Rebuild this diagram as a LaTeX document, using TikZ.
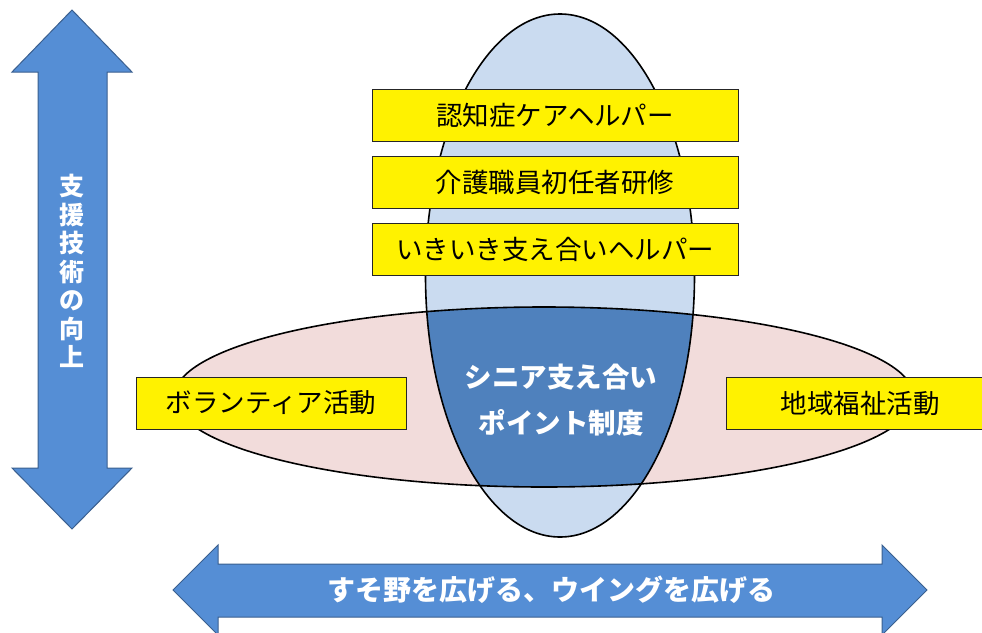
\documentclass[tikz,border=0pt]{standalone}
\usepackage{fontspec}
\setmainfont{Noto Sans CJK JP}
\definecolor{arrowblue}{HTML}{558ED5}
\definecolor{arrowedge}{HTML}{3A5F8F}
\definecolor{lightblue}{HTML}{CADBF0}
\definecolor{pinkfill}{HTML}{F2DCDB}
\definecolor{darkblue}{HTML}{4F81BD}
\tikzset{
  bigarrow/.style={fill=arrowblue, draw=arrowedge, line width=1pt, line join=miter},
  ybox/.style={draw=black!85, fill=yellow, line width=0.8pt, minimum height=52pt, inner sep=0pt,
    font=\fontsize{26.5}{30}\selectfont},
  whitetext/.style={text=white, font=\bfseries\fontsize{27.5}{46}\selectfont, align=center},
  outline/.style={draw=black, line width=1.6pt}
}
\begin{document}
\begin{tikzpicture}[x=1pt, y=-1pt]
\useasboundingbox (0,0) rectangle (982,632);
\clip (0,0) rectangle (982,632);
% vertical arrow
\draw[bigarrow] (72,10) -- (132,72) -- (107,72) -- (107,468) -- (132,468) -- (72,529)
  -- (12,468) -- (38,468) -- (38,72) -- (12,72) -- cycle;
\node[whitetext, font=\bfseries\fontsize{25}{28.5}\selectfont] (vtext) at (72,271)
  {支\\援\\技\\術\\の\\向\\上};
% horizontal arrow
\draw[bigarrow] (173,590) -- (218,545) -- (218,564) -- (882,564) -- (882,545) -- (927,590)
  -- (882,635) -- (882,617) -- (218,617) -- (218,635) -- cycle;
\node[whitetext, font=\bfseries\fontsize{28}{32}\selectfont] (htext) at (551,590)
  {すそ野を広げる、ウイングを広げる};
% ellipses
\fill[lightblue] (560,275.5) ellipse [x radius=134.5, y radius=261.5];
\fill[pinkfill] (544,397) ellipse [x radius=370, y radius=90];
\begin{scope}
  \clip (560,275.5) ellipse [x radius=134.5, y radius=261.5];
  \fill[darkblue] (544,397) ellipse [x radius=370, y radius=90];
\end{scope}
\draw[outline] (560,275.5) ellipse [x radius=134.5, y radius=261.5];
\draw[outline] (544,397) ellipse [x radius=370, y radius=90];
% center text
\node[whitetext] (center) at (561,400) {シニア支え合い\\ポイント制度};
% yellow boxes
\node[ybox, minimum width=366pt] (b1) at (555,115.5) {認知症ケアヘルパー};
\node[ybox, minimum width=366pt] (b2) at (555,182.5) {介護職員初任者研修};
\node[ybox, minimum width=366pt] (b3) at (555,249.5) {いきいき支え合いヘルパー};
\node[ybox, minimum width=270pt] (b4) at (271,403) {ボランティア活動};
\node[ybox, minimum width=268pt] (b5) at (860,403) {地域福祉活動};
\end{tikzpicture}
\end{document}
